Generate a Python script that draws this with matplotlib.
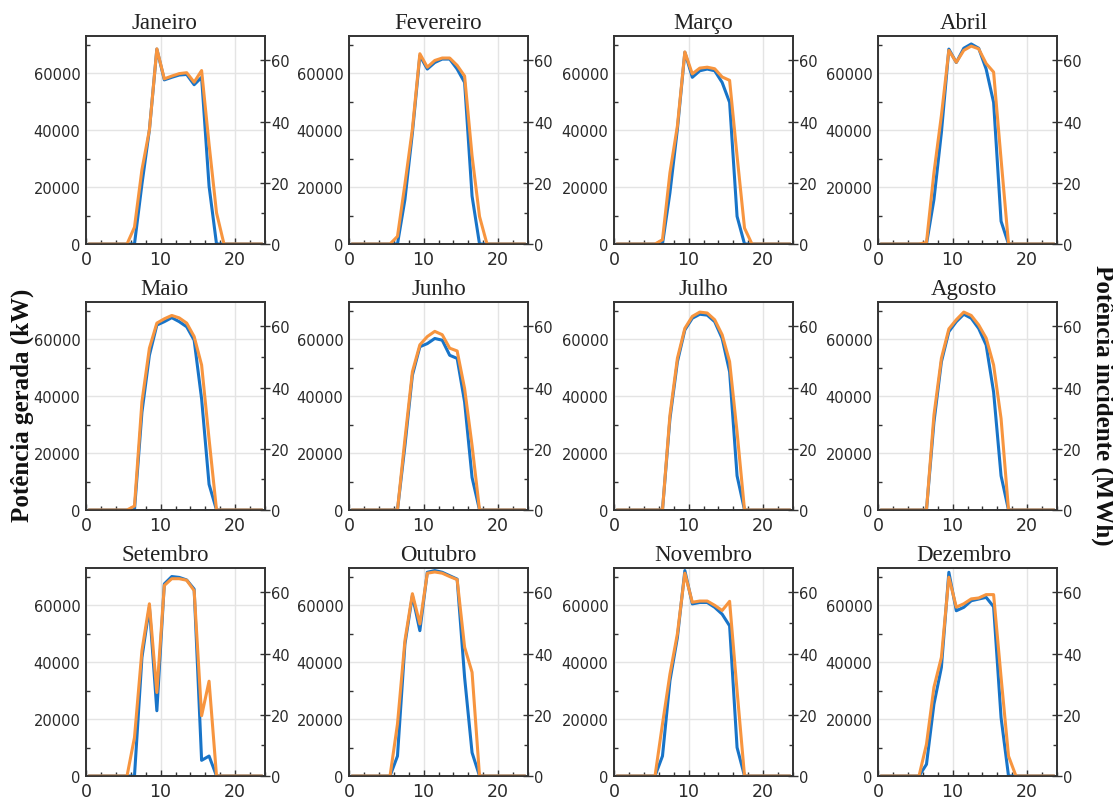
import matplotlib
matplotlib.use("Agg")
import matplotlib.pyplot as plt
from matplotlib.ticker import MultipleLocator

hours = [0.5, 1.5, 2.5, 3.5, 4.5, 5.5, 6.5, 7.5, 8.5, 9.5, 10.5, 11.5,
         12.5, 13.5, 14.5, 15.5, 16.5, 17.5, 18.5, 19.5, 20.5, 21.5, 22.5, 23.5]

months = ["Janeiro", "Fevereiro", "Março", "Abril",
          "Maio", "Junho", "Julho", "Agosto",
          "Setembro", "Outubro", "Novembro", "Dezembro"]

# Potência gerada (kW) - left axis
gen_jan = [0, 0, 0, 0, 0, 0, 0, 21000, 40000, 68400, 57600, 58500, 59300, 59500, 55900, 58500, 20300, 0, 0, 0, 0, 0, 0, 0]
gen_fev = [0, 0, 0, 0, 0, 0, 0, 15600, 39000, 66100, 61400, 63700, 64900, 64900, 61400, 56700, 16800, 0, 0, 0, 0, 0, 0, 0]
gen_mar = [0, 0, 0, 0, 0, 0, 0, 18000, 40300, 67300, 58500, 60800, 61400, 60800, 56700, 49700, 9700, 0, 0, 0, 0, 0, 0, 0]
gen_abr = [0, 0, 0, 0, 0, 0, 0, 15600, 39100, 68400, 63700, 68700, 70200, 68700, 61400, 49700, 8000, 0, 0, 0, 0, 0, 0, 0]
gen_mai = [0, 0, 0, 0, 0, 0, 0, 34300, 54300, 64900, 66100, 67500, 66100, 64300, 59600, 39000, 9000, 0, 0, 0, 0, 0, 0, 0]
gen_jun = [0, 0, 0, 0, 0, 0, 0, 22600, 47300, 57300, 58400, 60200, 59600, 54300, 53200, 37900, 11400, 0, 0, 0, 0, 0, 0, 0]
gen_jul = [0, 0, 0, 0, 0, 0, 0, 32000, 52000, 63200, 67300, 68700, 68400, 66100, 60200, 48500, 12000, 0, 0, 0, 0, 0, 0, 0]
gen_ago = [0, 0, 0, 0, 0, 0, 0, 30800, 52000, 62600, 66100, 68700, 67300, 63700, 57900, 41400, 12000, 0, 0, 0, 0, 0, 0, 0]
gen_set = [0, 0, 0, 0, 0, 0, 0, 41600, 59200, 22900, 67400, 70000, 69700, 68800, 65600, 5500, 7000, 0, 0, 0, 0, 0, 0, 0]
gen_out = [0, 0, 0, 0, 0, 0, 7000, 46300, 63300, 51000, 71500, 72100, 71500, 70300, 69100, 34600, 8200, 0, 0, 0, 0, 0, 0, 0]
gen_nov = [0, 0, 0, 0, 0, 0, 7000, 33400, 48600, 72100, 60400, 60900, 60900, 59200, 56800, 52700, 10000, 0, 0, 0, 0, 0, 0, 0]
gen_dez = [0, 0, 0, 0, 0, 0, 4100, 25200, 38100, 71500, 58000, 59200, 61500, 62100, 62700, 59400, 20500, 0, 0, 0, 0, 0, 0, 0]

# Potência incidente (MW) - right axis
inc_jan = [0, 0, 0, 0, 0, 0, 5.5, 24.3, 37.3, 63.8, 54.0, 54.9, 55.7, 56.0, 52.9, 56.7, 32.6, 10.2, 0, 0, 0, 0, 0, 0]
inc_fev = [0, 0, 0, 0, 0, 0, 2.5, 19.6, 37.6, 62.2, 57.8, 60.0, 60.8, 60.8, 58.4, 54.9, 28.8, 9.0, 0, 0, 0, 0, 0, 0]
inc_mar = [0, 0, 0, 0, 0, 0, 1.4, 23.3, 38.6, 62.8, 55.6, 57.5, 57.8, 57.3, 54.6, 53.5, 28.8, 5.2, 0, 0, 0, 0, 0, 0]
inc_abr = [0, 0, 0, 0, 0, 0, 0.5, 23.3, 42.0, 63.3, 59.4, 63.3, 64.7, 63.8, 59.0, 56.2, 27.7, 0, 0, 0, 0, 0, 0, 0]
inc_mai = [0, 0, 0, 0, 0, 0, 1.3, 35.4, 52.9, 61.1, 62.5, 63.6, 62.8, 61.1, 56.7, 47.4, 23.2, 0, 0, 0, 0, 0, 0, 0]
inc_jun = [0, 0, 0, 0, 0, 0, 0, 23.2, 45.2, 54.0, 56.7, 58.4, 57.3, 52.9, 52.0, 39.7, 21.1, 0, 0, 0, 0, 0, 0, 0]
inc_jul = [0, 0, 0, 0, 0, 0, 0, 31.0, 49.6, 59.4, 63.3, 64.7, 64.4, 62.2, 57.3, 48.5, 25.5, 0, 0, 0, 0, 0, 0, 0]
inc_ago = [0, 0, 0, 0, 0, 0, 0, 31.0, 49.6, 59.2, 62.2, 64.7, 63.6, 60.5, 56.2, 47.4, 29.9, 0, 0, 0, 0, 0, 0, 0]
inc_set = [0, 0, 0, 0, 0, 0, 12.6, 41.0, 56.3, 27.3, 62.3, 64.5, 64.5, 64.0, 60.6, 19.7, 31.0, 0, 0, 0, 0, 0, 0, 0]
inc_out = [0, 0, 0, 0, 0, 0, 17.0, 44.3, 59.6, 49.7, 66.3, 66.7, 66.3, 65.2, 64.2, 42.1, 33.9, 0, 0, 0, 0, 0, 0, 0]
inc_nov = [0, 0, 0, 0, 0, 0, 17.0, 33.3, 46.5, 66.3, 56.8, 57.2, 57.2, 55.8, 54.1, 57.1, 27.9, 0, 0, 0, 0, 0, 0, 0]
inc_dez = [0, 0, 0, 0, 0, 0, 10.4, 29.0, 38.8, 65.0, 55.2, 56.3, 57.9, 58.2, 59.3, 59.3, 32.3, 6.5, 0, 0, 0, 0, 0, 0]

gen_all = [gen_jan, gen_fev, gen_mar, gen_abr, gen_mai, gen_jun,
           gen_jul, gen_ago, gen_set, gen_out, gen_nov, gen_dez]
inc_all = [inc_jan, inc_fev, inc_mar, inc_abr, inc_mai, inc_jun,
           inc_jul, inc_ago, inc_set, inc_out, inc_nov, inc_dez]

W, H = 1113, 803
fig = plt.figure(figsize=(W / 100, H / 100), dpi=100)

col_left = [86, 349, 614, 878]
ax_w = 179
row_top = [37, 303, 569]
ax_h = 208
title_x = [0.44, 0.5, 0.5, 0.48]

blue = "#1874c8"
orange = "#f7953f"
spine_c = "#333333"
tick_c = "#2a2a2a"
serif = ["Liberation Serif", "DejaVu Serif"]

for i, name in enumerate(months):
    r, c = divmod(i, 4)
    rect = [col_left[c] / W, 1 - (row_top[r] + ax_h) / H, ax_w / W, ax_h / H]
    ax = fig.add_axes(rect)
    ax2 = ax.twinx()

    ax.plot(hours, gen_all[i], color=blue, lw=2.2, solid_joinstyle="round")
    ax2.plot(hours, inc_all[i], color=orange, lw=2.2, solid_joinstyle="round")

    ax.set_xlim(0, 24)
    ax.set_ylim(0, 73000)
    ax2.set_ylim(0, 68)

    ax.xaxis.set_major_locator(MultipleLocator(10))
    ax.xaxis.set_minor_locator(MultipleLocator(2))
    ax.yaxis.set_major_locator(MultipleLocator(20000))
    ax.yaxis.set_minor_locator(MultipleLocator(10000))
    ax2.yaxis.set_major_locator(MultipleLocator(20))
    ax2.yaxis.set_minor_locator(MultipleLocator(10))

    ax.grid(True, which="major", color="#e4e4e4", lw=1.0)
    ax.set_axisbelow(True)

    ax.tick_params(axis="both", which="major", direction="in", length=4,
                   width=1, colors=spine_c, labelcolor=tick_c, pad=3)
    ax.tick_params(axis="x", which="major", labelsize=12.5, pad=4)
    ax.tick_params(axis="y", which="major", labelsize=10.5, length=0, pad=4)
    ax.tick_params(axis="both", which="minor", direction="in", length=3,
                   width=1, colors=spine_c)
    ax2.tick_params(axis="y", which="major", direction="inout", length=7,
                    width=1, colors=spine_c, labelcolor=tick_c, labelsize=10.5, pad=1)
    ax2.tick_params(axis="y", which="minor", direction="in", length=3,
                    width=1, colors=spine_c)

    for a in (ax, ax2):
        for s in a.spines.values():
            s.set_color(spine_c)
            s.set_linewidth(1.2)

    ax.set_title(name, fontsize=16.5, family=serif, color="#222222",
                 x=title_x[c], pad=6)

fig.text(22 / W, 1 - 405 / H, "Potência gerada (kW)", rotation=90,
         ha="center", va="center", fontsize=18, fontweight="bold",
         family=serif, color="#111111")
fig.text(1103 / W, 1 - 405 / H, "Potência incidente (MWh)", rotation=270,
         ha="center", va="center", fontsize=18, fontweight="bold",
         family=serif, color="#111111")

fig.savefig("out.png", dpi=100, facecolor="white")
